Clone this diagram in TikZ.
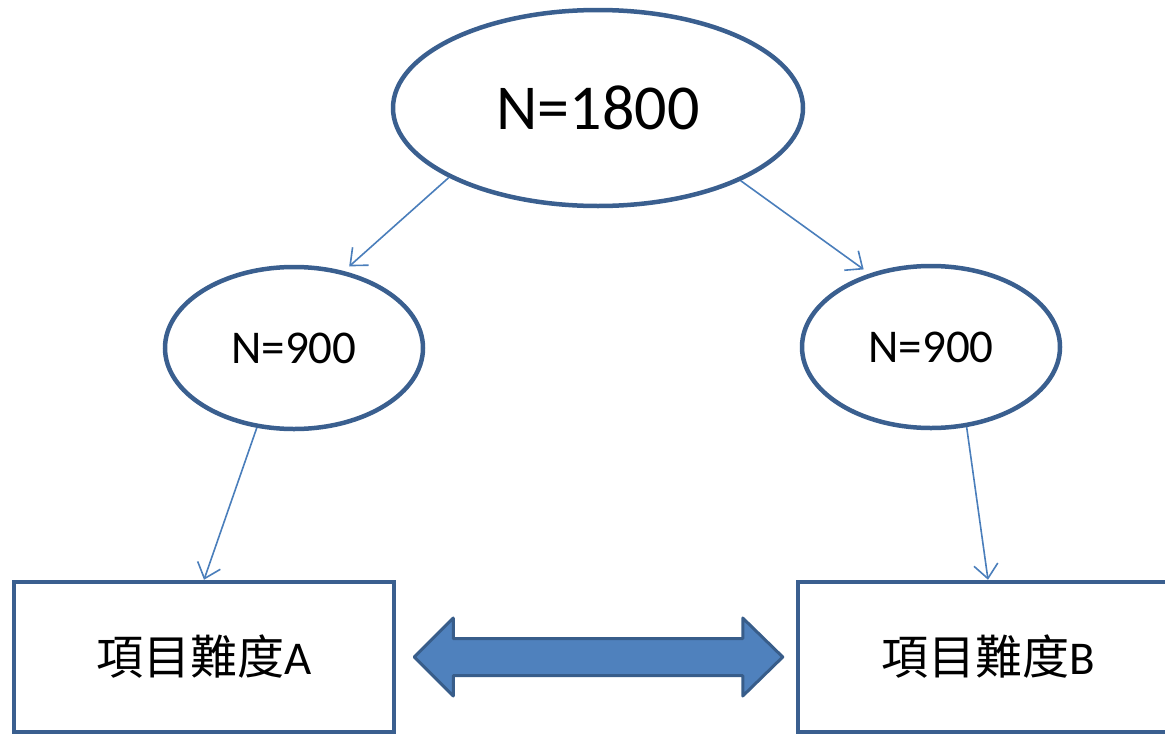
\documentclass[tikz,border=0pt]{standalone}
\usepackage{fontspec}
\setmainfont{Carlito}
\newfontfamily\cjk{Noto Sans CJK TC}
\usetikzlibrary{shapes.geometric,arrows.meta,calc}
\definecolor{edgeblue}{HTML}{3A5F8F}
\definecolor{linkblue}{HTML}{4A7EBB}
\definecolor{fillblue}{HTML}{4F81BD}
\definecolor{darkblue}{HTML}{385D8A}
\tikzset{
  ell/.style={ellipse, draw=edgeblue, line width=4.5pt, inner sep=0pt, fill=white},
  boxnode/.style={rectangle, draw=edgeblue, line width=4.5pt, inner sep=0pt, minimum width=380pt, minimum height=150pt},
  link/.style={draw=linkblue, line width=1.6pt, -{Straight Barb[length=14pt,width=24pt]}},
  dblarrow/.style={fill=fillblue, draw=darkblue, line width=3pt, line join=round}
}
\begin{document}
\begin{tikzpicture}[x=1pt,y=-1pt]
\useasboundingbox (0,0) rectangle (1165,734);
\clip (0,0) rectangle (1165,734);
\node[ell, minimum width=410pt, minimum height=196pt, font=\fontsize{64pt}{70pt}\selectfont] (top) at (598,108) {N=1800};
\node[ell, minimum width=258pt, minimum height=162pt, font=\fontsize{47pt}{52pt}\selectfont] (left) at (294,348) {N=900};
\node[ell, minimum width=258pt, minimum height=162pt, font=\fontsize{47pt}{52pt}\selectfont] (right) at (931,347) {N=900};
\node[boxnode, font=\fontsize{47pt}{52pt}\selectfont] (A) at (204,657) {{\cjk 項目難度}A};
\node[boxnode, font=\fontsize{47pt}{52pt}\selectfont] (B) at (988,657) {{\cjk 項目難度}B};
\draw[link, shorten >=7pt] (top.205.6) -- (left.57.6);
\draw[link, shorten >=7pt] (top.333.9) -- (right.130.5);
\draw[link] (left.245.1) -- (A.north);
\draw[link] (right.294) -- (B.north);
\coordinate (L) at ($(A.east)+(18,0)$);
\coordinate (R) at ($(B.west)+(-13,0)$);
\draw[dblarrow] (L) -- ($(L)+(39,-39)$) -- ($(L)+(39,-18.5)$) -- ($(R)+(-40,-18.5)$) -- ($(R)+(-40,-39)$) -- (R) -- ($(R)+(-40,39)$) -- ($(R)+(-40,18.5)$) -- ($(L)+(39,18.5)$) -- ($(L)+(39,39)$) -- cycle;
\end{tikzpicture}
\end{document}
